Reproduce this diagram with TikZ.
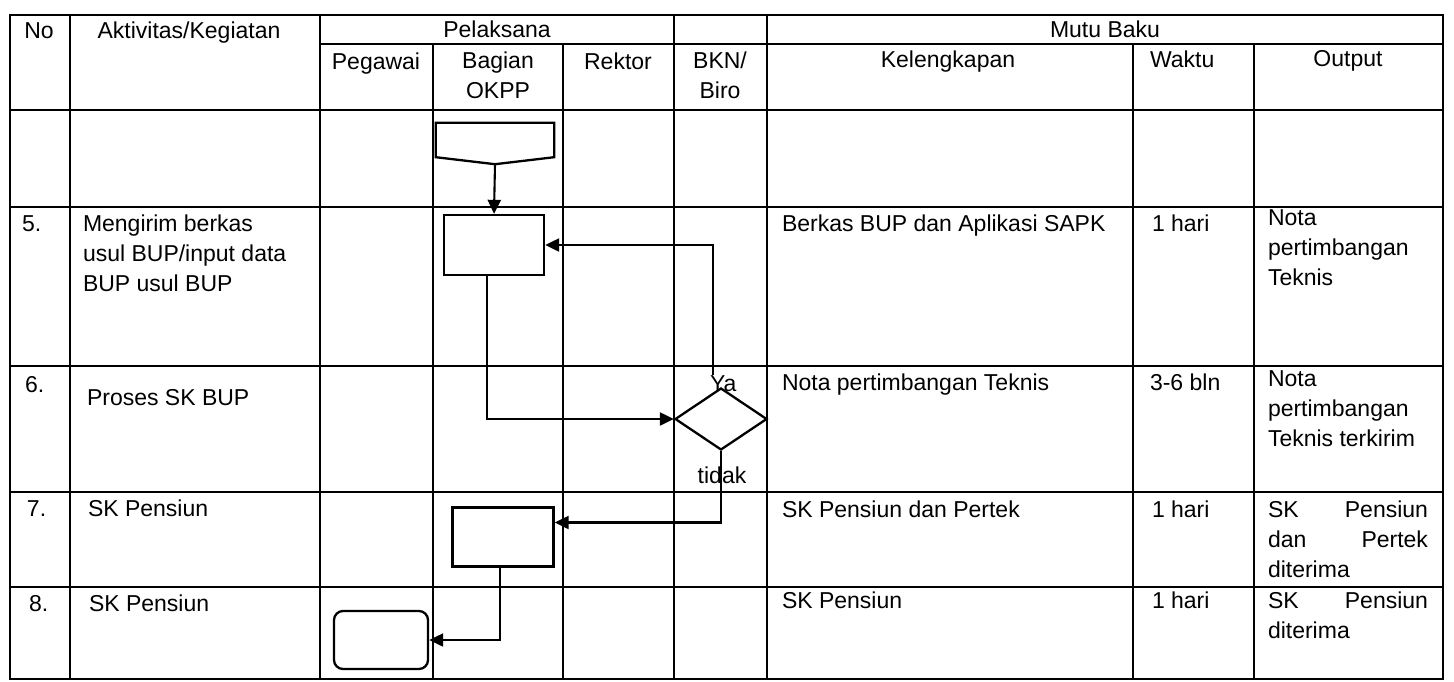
\documentclass[tikz,border=0pt]{standalone}
\usepackage{fontspec}
\setmainfont{Liberation Sans}
\usetikzlibrary{arrows.meta,shapes.geometric}

\tikzset{
	teks/.style={font=\fontsize{23}{30}\selectfont, inner sep=0pt, outer sep=0pt},
	garis/.style={line width=1.9pt},
	proses/.style={draw, rectangle, line width=2.3pt, inner sep=0pt},
	pilihan/.style={draw, diamond, line width=2.3pt, inner sep=0pt, minimum width=92pt, minimum height=62pt},
	panah/.style={-{Triangle[length=14pt,width=13pt]}, line width=2.1pt},
}

\begin{document}
\begin{tikzpicture}[x=1pt, y=-1pt]
	\useasboundingbox (0, 0) rectangle (1454, 681);

	%% table frame
	\draw[garis] (10, 15) rectangle (1443, 679);
	\draw[garis] (320, 44) -- (1443, 44);
	\draw[garis] (10, 110) -- (1443, 110);
	\draw[garis] (10, 207) -- (1443, 207);
	\draw[garis] (10, 366) -- (1443, 366);
	\draw[garis] (10, 492) -- (1443, 492);
	\draw[garis] (10, 587) -- (1443, 587);

	%% columns
	\draw[garis] (70, 15) -- (70, 679);
	\draw[garis] (320, 15) -- (320, 679);
	\draw[garis] (433, 44) -- (433, 679);
	\draw[garis] (563, 44) -- (563, 679);
	\draw[garis] (674, 15) -- (674, 679);
	\draw[garis] (767, 15) -- (767, 679);
	\draw[garis] (1133, 44) -- (1133, 679);
	\draw[garis] (1254, 44) -- (1254, 679);

	%% header
	\node[teks, anchor=base] (hno) at (39, 38) {No};
	\node[teks, anchor=base] (hakt) at (189, 38) {Aktivitas/Kegiatan};
	\node[teks, anchor=base] (hpel) at (497, 37) {Pelaksana};
	\node[teks, anchor=base] (hmutu) at (1105, 37) {Mutu Baku};
	\node[teks, anchor=base] (hpeg) at (376, 69) {Pegawai};
	\node[teks, anchor=north, align=center] (hokpp) at (498, 52) {Bagian\\OKPP};
	\node[teks, anchor=base] (hrek) at (618, 69) {Rektor};
	\node[teks, anchor=north, align=center] (hbkn) at (720, 52) {BKN/\\Biro};
	\node[teks, anchor=base] (hkel) at (948, 67) {Kelengkapan};
	\node[teks, anchor=base west] (hwak) at (1150, 67) {Waktu};
	\node[teks, anchor=base] (hout) at (1348, 66) {Output};

	%% activities
	\node[teks, anchor=base west] (no5) at (22, 231) {5.};
	\node[teks, anchor=north west, align=left] (akt5) at (83, 215) {Mengirim berkas\\usul BUP/input data\\BUP usul BUP};
	\node[teks, anchor=base west] (no6) at (25, 392) {6.};
	\node[teks, anchor=base west] (akt6) at (87, 405) {Proses SK BUP};
	\node[teks, anchor=base west] (no7) at (27, 516) {7.};
	\node[teks, anchor=base west] (akt7) at (88, 516) {SK Pensiun};
	\node[teks, anchor=base west] (no8) at (29, 611) {8.};
	\node[teks, anchor=base west] (akt8) at (89, 611) {SK Pensiun};

	%% mutu baku
	\node[teks, anchor=base west] (kel5) at (782, 231) {Berkas BUP dan Aplikasi SAPK};
	\node[teks, anchor=base west] (wak5) at (1152, 231) {1 hari};
	\node[teks, anchor=north west, align=left] (out5) at (1268, 210) {Nota\\pertimbangan\\Teknis};
	\node[teks, anchor=base west] (kel6) at (782, 390) {Nota pertimbangan Teknis};
	\node[teks, anchor=base west] (wak6) at (1150, 390) {3-6 bln};
	\node[teks, anchor=north west, align=left] (out6) at (1268, 371) {Nota\\pertimbangan\\Teknis terkirim};
	\node[teks, anchor=base west] (kel7) at (782, 517) {SK Pensiun dan Pertek};
	\node[teks, anchor=base west] (wak7) at (1152, 517) {1 hari};
	\node[teks, anchor=north west, text width=160pt, align=left] (out7) at (1268, 501) {SK\hfill Pensiun\\dan\hfill Pertek\\diterima};
	\node[teks, anchor=base west] (kel8) at (782, 608) {SK Pensiun};
	\node[teks, anchor=base west] (wak8) at (1152, 608) {1 hari};
	\node[teks, anchor=north west, text width=160pt, align=left] (out8) at (1268, 592) {SK\hfill Pensiun\\diterima};

	%% flow shapes
	\node[minimum width=118pt, minimum height=34pt, inner sep=0pt] (mulai) at (495, 140) {};
	\draw[line width=2.3pt, line join=miter] (mulai.north west) -- (mulai.north east) -- (mulai.south east)
		-- ([yshift=-7pt]mulai.south) -- (mulai.south west) -- cycle;
	\node[proses, minimum width=100pt, minimum height=60pt] (mengirim) at (494, 245) {};
	\node[pilihan] (keputusan) at (721, 419) {};
	\node[proses, minimum width=101pt, minimum height=59pt] (pensiun) at (503, 537) {};
	\node[proses, rounded corners=9pt, minimum width=94pt, minimum height=58pt] (selesai) at (381, 640) {};

	%% decision labels
	\node[teks, anchor=base west] (ya) at (710, 391) {Ya};
	\node[teks, anchor=base] (tidak) at (722, 483) {tidak};

	%% connectors
	\draw[panah] ([yshift=-7pt]mulai.south) -- (mengirim.north);
	\draw[panah] ([xshift=-7pt]mengirim.south) |- (keputusan.west);
	\draw[panah] ([xshift=3pt]ya.north west) |- (mengirim.east);
	\draw[panah] (keputusan.south) |- ([yshift=14.5pt]pensiun.east);
	\draw[panah] ([xshift=-3pt]pensiun.south) |- (selesai.east);
\end{tikzpicture}
\end{document}
